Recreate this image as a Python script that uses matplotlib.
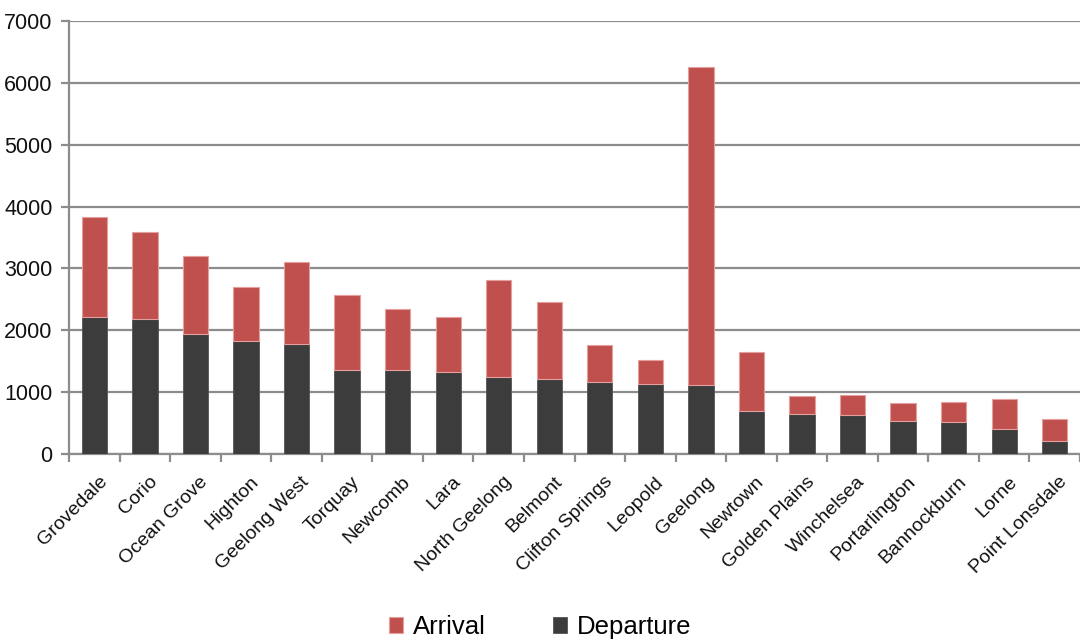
import matplotlib
matplotlib.use("Agg")
import matplotlib.pyplot as plt
import numpy as np

plt.rcParams['font.family'] = ['Liberation Sans', 'DejaVu Sans']

suburbs = ["Grovedale", "Corio", "Ocean Grove", "Highton", "Geelong West",
           "Torquay", "Newcomb", "Lara", "North Geelong", "Belmont",
           "Clifton Springs", "Leopold", "Geelong", "Newtown", "Golden Plains",
           "Winchelsea", "Portarlington", "Bannockburn", "Lorne", "Point Lonsdale"]
departure = [2215, 2175, 1935, 1830, 1780, 1360, 1360, 1315, 1235, 1210,
             1165, 1130, 1105, 695, 645, 620, 530, 510, 400, 205]
arrival = [1620, 1405, 1265, 870, 1315, 1205, 985, 900, 1575, 1250,
           590, 390, 5150, 955, 285, 335, 290, 335, 485, 355]

red = "#C0504D"
dark = "#3C3C3C"
grid_gray = "#8C8C8C"

fig = plt.figure(figsize=(10.8, 6.4), dpi=100)
ax = fig.add_axes([0.064, 0.291, 0.936, 0.676])

x = np.arange(len(suburbs))
width = 0.5
ax.bar(x, departure, width, color=dark, edgecolor="#555555", linewidth=0.6,
       label="Departure", zorder=3)
ax.bar(x, arrival, width, bottom=departure, color=red, edgecolor="#E4A09E",
       linewidth=0.8, label="Arrival", zorder=3)

ax.set_xlim(-0.5, len(suburbs) - 0.5)
ax.set_ylim(0, 7000)
ax.set_yticks(range(0, 7001, 1000))
ax.yaxis.grid(True, color=grid_gray, linewidth=1.6, zorder=0)
ax.set_axisbelow(True)

# category labels centred on bars, tick marks on category boundaries
ax.set_xticks(x + 0.08)
ax.set_xticklabels(suburbs, rotation=45, ha="right", rotation_mode="anchor",
                   fontsize=14, color="#111111")
ax.tick_params(axis="x", which="major", length=0, pad=14)
ax.set_xticks(np.arange(-0.5, len(suburbs) + 0.5, 1.0), minor=True)
ax.tick_params(axis="x", which="minor", length=6, width=1.6, color=grid_gray,
               direction="out")
ax.tick_params(axis="y", length=6, width=1.6, color=grid_gray, direction="out",
               labelsize=15.5, labelcolor="#111111", pad=6)

for side in ("top", "right"):
    ax.spines[side].set_visible(False)
for side in ("left", "bottom"):
    ax.spines[side].set_color(grid_gray)
    ax.spines[side].set_linewidth(1.6)

handles, labels = ax.get_legend_handles_labels()
fig.legend(handles[::-1], labels[::-1], loc="center", bbox_to_anchor=(0.5, 0.02),
           ncol=2, frameon=False, fontsize=18.5, handlelength=0.55,
           handleheight=0.55, handletextpad=0.4, columnspacing=2.6)

fig.savefig("out.png", dpi=100, facecolor="white")
